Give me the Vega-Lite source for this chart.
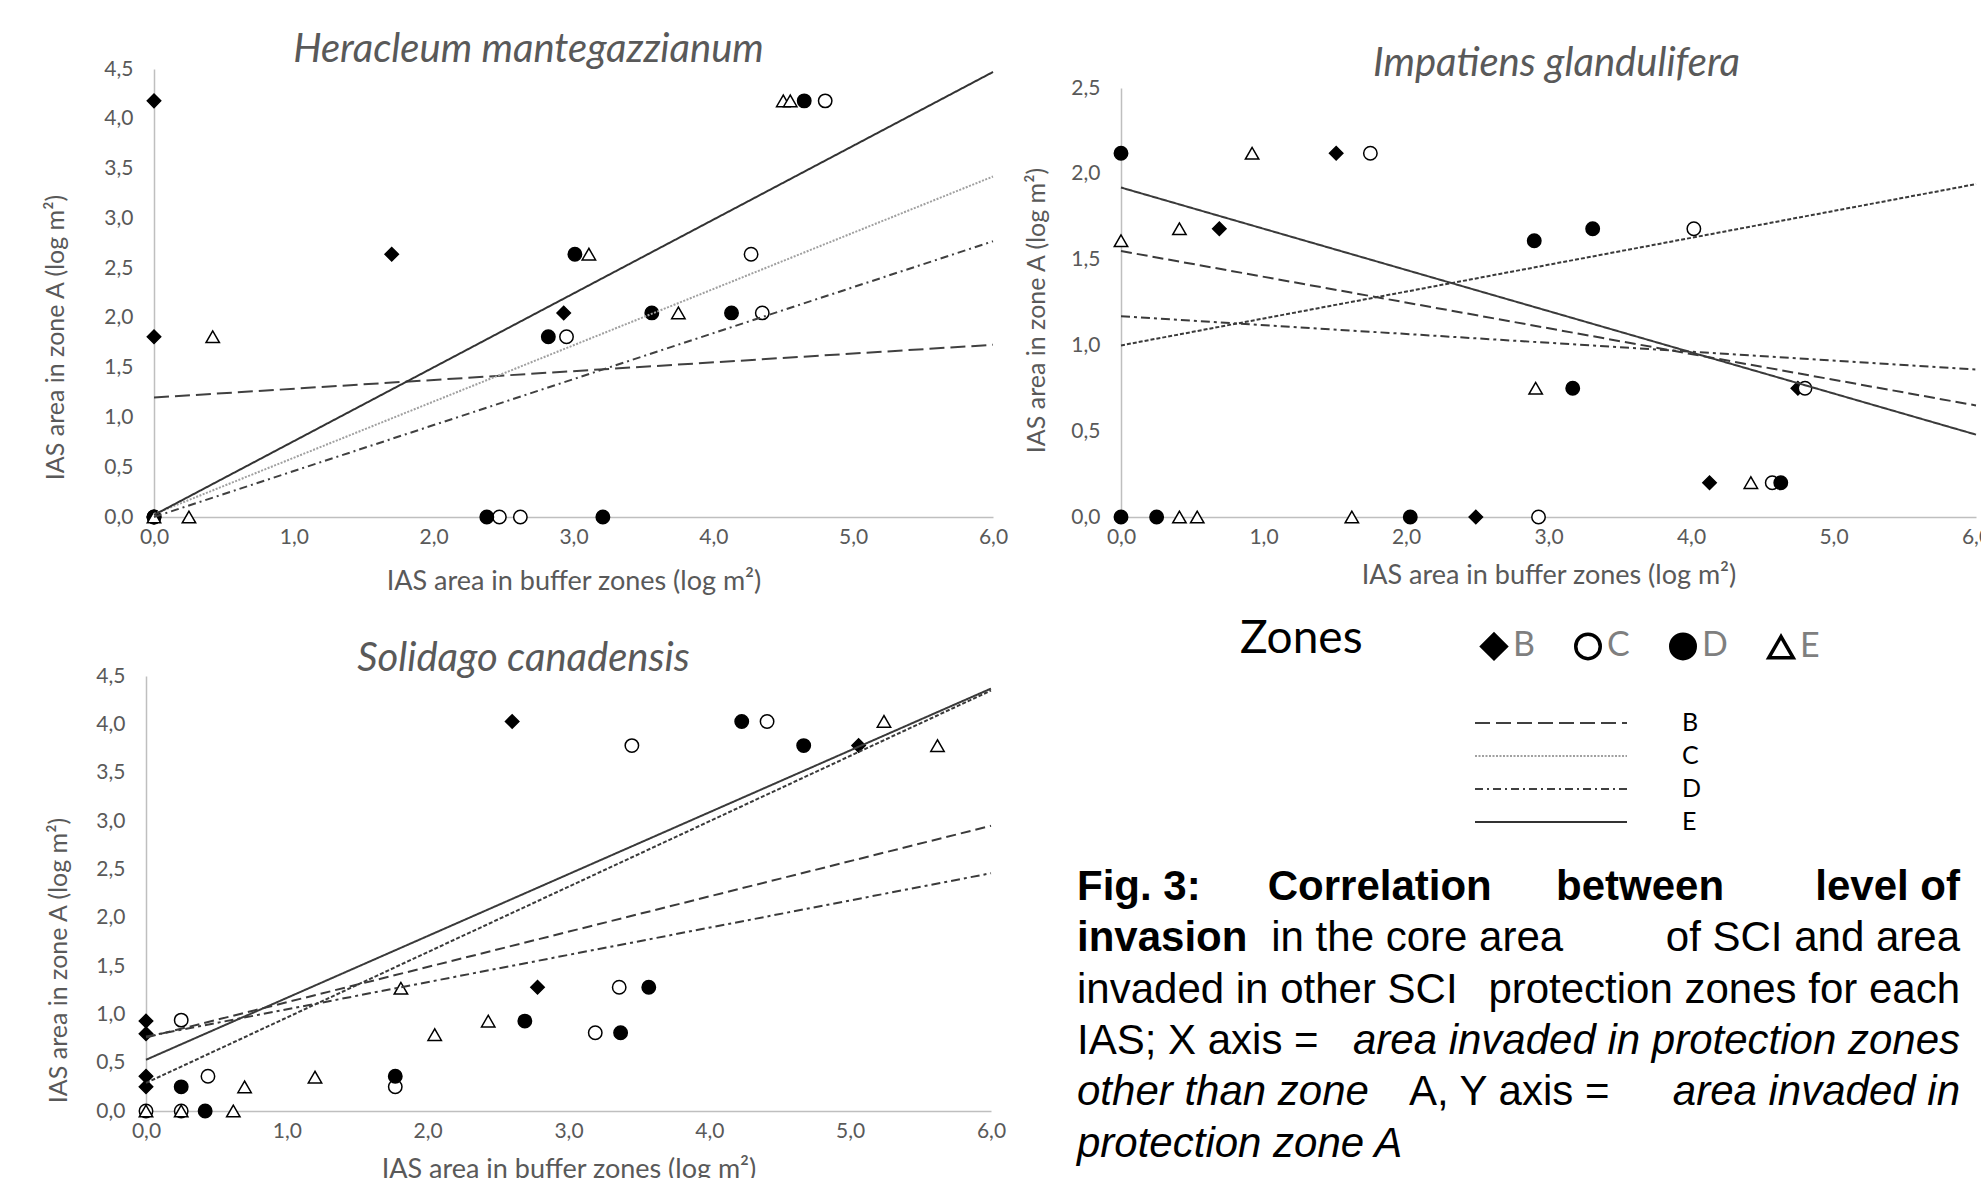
{
  "$schema": "https://vega.github.io/schema/vega-lite/v6.json",
  "padding": {"left": 43, "top": 30, "right": 0, "bottom": 0},
  "background": "white",
  "bounds": "flush",
  "columns": 2,
  "spacing": {"row": 159, "column": 128},
  "resolve": {"scale": {"strokeDash": "independent", "stroke": "independent"}},
  "config": {
    "view": {"stroke": null},
    "font": "Lato",
    "axis": {"grid": false, "ticks": false, "domainColor": "#bfbfbf", "domainWidth": 1.5, "labelFont": "Lato", "labelFontSize": 21, "labelColor": "#595959", "titleFont": "Lato", "titleFontSize": 25, "titleFontWeight": "normal", "titleColor": "#595959", "labelOverlap": false, "labelFlush": false},
    "axisX": {"labelPadding": 9, "titleFontSize": 27},
    "axisY": {"labelPadding": 21},
    "title": {"font": "Lato", "fontSize": 40, "fontStyle": "italic", "fontWeight": "normal", "color": "#595959", "anchor": "middle", "frame": "group", "baseline": "alphabetic"},
    "legend": {"padding": 0}
  },
  "datasets": {
    "points": [
      {"p": "H", "zone": "B", "x": 0, "y": 4.18}, {"p": "H", "zone": "B", "x": 0, "y": 1.81}, {"p": "H", "zone": "B", "x": 1.70, "y": 2.64}, {"p": "H", "zone": "B", "x": 2.93, "y": 2.05}, {"p": "H", "zone": "B", "x": 0, "y": 0},
      {"p": "H", "zone": "C", "x": 0, "y": 0}, {"p": "H", "zone": "C", "x": 2.47, "y": 0}, {"p": "H", "zone": "C", "x": 2.62, "y": 0}, {"p": "H", "zone": "C", "x": 2.95, "y": 1.81}, {"p": "H", "zone": "C", "x": 4.27, "y": 2.64}, {"p": "H", "zone": "C", "x": 4.35, "y": 2.05}, {"p": "H", "zone": "C", "x": 4.80, "y": 4.18},
      {"p": "H", "zone": "D", "x": 0, "y": 0}, {"p": "H", "zone": "D", "x": 2.38, "y": 0}, {"p": "H", "zone": "D", "x": 3.21, "y": 0}, {"p": "H", "zone": "D", "x": 2.82, "y": 1.81}, {"p": "H", "zone": "D", "x": 3.01, "y": 2.64}, {"p": "H", "zone": "D", "x": 3.56, "y": 2.05}, {"p": "H", "zone": "D", "x": 4.13, "y": 2.05}, {"p": "H", "zone": "D", "x": 4.65, "y": 4.18},
      {"p": "H", "zone": "E", "x": 0, "y": 0}, {"p": "H", "zone": "E", "x": 0.25, "y": 0}, {"p": "H", "zone": "E", "x": 0.42, "y": 1.81}, {"p": "H", "zone": "E", "x": 3.11, "y": 2.64}, {"p": "H", "zone": "E", "x": 3.75, "y": 2.05}, {"p": "H", "zone": "E", "x": 4.50, "y": 4.18}, {"p": "H", "zone": "E", "x": 4.55, "y": 4.18},
      {"p": "I", "zone": "B", "x": 1.51, "y": 2.12}, {"p": "I", "zone": "B", "x": 0.69, "y": 1.68}, {"p": "I", "zone": "B", "x": 4.75, "y": 0.75}, {"p": "I", "zone": "B", "x": 4.13, "y": 0.2}, {"p": "I", "zone": "B", "x": 2.49, "y": 0},
      {"p": "I", "zone": "C", "x": 1.75, "y": 2.12}, {"p": "I", "zone": "C", "x": 4.02, "y": 1.68}, {"p": "I", "zone": "C", "x": 4.80, "y": 0.75}, {"p": "I", "zone": "C", "x": 4.57, "y": 0.2}, {"p": "I", "zone": "C", "x": 2.93, "y": 0},
      {"p": "I", "zone": "D", "x": 0, "y": 2.12}, {"p": "I", "zone": "D", "x": 2.90, "y": 1.61}, {"p": "I", "zone": "D", "x": 3.31, "y": 1.68}, {"p": "I", "zone": "D", "x": 3.17, "y": 0.75}, {"p": "I", "zone": "D", "x": 4.63, "y": 0.2}, {"p": "I", "zone": "D", "x": 0, "y": 0}, {"p": "I", "zone": "D", "x": 0.25, "y": 0}, {"p": "I", "zone": "D", "x": 2.03, "y": 0},
      {"p": "I", "zone": "E", "x": 0.92, "y": 2.12}, {"p": "I", "zone": "E", "x": 0.41, "y": 1.68}, {"p": "I", "zone": "E", "x": 0, "y": 1.61}, {"p": "I", "zone": "E", "x": 2.91, "y": 0.75}, {"p": "I", "zone": "E", "x": 4.42, "y": 0.2}, {"p": "I", "zone": "E", "x": 0.41, "y": 0}, {"p": "I", "zone": "E", "x": 0.535, "y": 0}, {"p": "I", "zone": "E", "x": 1.62, "y": 0},
      {"p": "S", "zone": "B", "x": 0, "y": 0.93}, {"p": "S", "zone": "B", "x": 0, "y": 0.80}, {"p": "S", "zone": "B", "x": 0, "y": 0.36}, {"p": "S", "zone": "B", "x": 0, "y": 0.25}, {"p": "S", "zone": "B", "x": 2.60, "y": 4.03}, {"p": "S", "zone": "B", "x": 5.06, "y": 3.78}, {"p": "S", "zone": "B", "x": 2.78, "y": 1.28},
      {"p": "S", "zone": "C", "x": 0.25, "y": 0.94}, {"p": "S", "zone": "C", "x": 0.44, "y": 0.36}, {"p": "S", "zone": "C", "x": 1.77, "y": 0.25}, {"p": "S", "zone": "C", "x": 3.19, "y": 0.81}, {"p": "S", "zone": "C", "x": 3.36, "y": 1.28}, {"p": "S", "zone": "C", "x": 3.45, "y": 3.78}, {"p": "S", "zone": "C", "x": 4.41, "y": 4.03}, {"p": "S", "zone": "C", "x": 0, "y": 0}, {"p": "S", "zone": "C", "x": 0.25, "y": 0},
      {"p": "S", "zone": "D", "x": 0.25, "y": 0.25}, {"p": "S", "zone": "D", "x": 1.77, "y": 0.36}, {"p": "S", "zone": "D", "x": 2.69, "y": 0.93}, {"p": "S", "zone": "D", "x": 3.37, "y": 0.81}, {"p": "S", "zone": "D", "x": 3.57, "y": 1.28}, {"p": "S", "zone": "D", "x": 4.23, "y": 4.03}, {"p": "S", "zone": "D", "x": 4.67, "y": 3.78}, {"p": "S", "zone": "D", "x": 0.42, "y": 0},
      {"p": "S", "zone": "E", "x": 0.70, "y": 0.25}, {"p": "S", "zone": "E", "x": 1.20, "y": 0.35}, {"p": "S", "zone": "E", "x": 1.81, "y": 1.27}, {"p": "S", "zone": "E", "x": 2.05, "y": 0.79}, {"p": "S", "zone": "E", "x": 2.43, "y": 0.93}, {"p": "S", "zone": "E", "x": 5.24, "y": 4.03}, {"p": "S", "zone": "E", "x": 5.62, "y": 3.78}, {"p": "S", "zone": "E", "x": 0, "y": 0}, {"p": "S", "zone": "E", "x": 0.25, "y": 0}, {"p": "S", "zone": "E", "x": 0.62, "y": 0}
    ],
    "lines": [
      {"p": "H", "zone": "B", "x": 0, "y": 1.20}, {"p": "H", "zone": "B", "x": 6, "y": 1.73},
      {"p": "H", "zone": "C", "x": 0, "y": 0.03}, {"p": "H", "zone": "C", "x": 6, "y": 3.42},
      {"p": "H", "zone": "D", "x": 0, "y": 0.0}, {"p": "H", "zone": "D", "x": 6, "y": 2.77},
      {"p": "H", "zone": "E", "x": 0, "y": 0.02}, {"p": "H", "zone": "E", "x": 6, "y": 4.47},
      {"p": "I", "zone": "B", "x": 0, "y": 1.55}, {"p": "I", "zone": "B", "x": 6, "y": 0.65},
      {"p": "I", "zone": "C", "x": 0, "y": 1.00}, {"p": "I", "zone": "C", "x": 6, "y": 1.94},
      {"p": "I", "zone": "D", "x": 0, "y": 1.17}, {"p": "I", "zone": "D", "x": 6, "y": 0.86},
      {"p": "I", "zone": "E", "x": 0, "y": 1.92}, {"p": "I", "zone": "E", "x": 6, "y": 0.48},
      {"p": "S", "zone": "B", "x": 0, "y": 0.76}, {"p": "S", "zone": "B", "x": 6, "y": 2.95},
      {"p": "S", "zone": "C", "x": 0, "y": 0.29}, {"p": "S", "zone": "C", "x": 6, "y": 4.35},
      {"p": "S", "zone": "D", "x": 0, "y": 0.77}, {"p": "S", "zone": "D", "x": 6, "y": 2.46},
      {"p": "S", "zone": "E", "x": 0, "y": 0.53}, {"p": "S", "zone": "E", "x": 6, "y": 4.37}
    ]
  },
  "concat": [
    {
      "width": 847,
      "height": 448,
      "title": {"text": "Heracleum mantegazzianum", "dx": -41, "offset": -12},
      "layer": [
        {
          "data": {"name": "points"},
          "transform": [{"filter": "datum.p == 'H'"}],
          "mark": {"type": "point", "filled": true, "opacity": 1, "stroke": "black", "strokeWidth": 1.5, "size": 180},
          "encoding": {
            "x": {"field": "x", "type": "quantitative", "scale": {"domain": [0, 6], "nice": false, "zero": false, "rangeMin": 8},
                  "axis": {"values": [0, 1, 2, 3, 4, 5, 6], "labelExpr": "replace(format(datum.value, '.1f'), '.', ',')", "title": "IAS area in buffer zones (log m²)", "titleY": 64, "titleBaseline": "middle"}},
            "y": {"field": "y", "type": "quantitative", "scale": {"domain": [0, 4.5], "nice": false},
                  "axis": {"values": [0, 0.5, 1, 1.5, 2, 2.5, 3, 3.5, 4, 4.5], "labelExpr": "replace(format(datum.value, '.1f'), '.', ',')", "title": "IAS area in zone A (log m²)", "offset": -8, "titleX": -99, "titleY": 268, "titleBaseline": "middle", "titleAlign": "center", "titleAngle": 270}},
            "shape": {"field": "zone", "type": "nominal", "scale": {"domain": ["B", "C", "D", "E"], "range": ["diamond", "circle", "circle", "triangle-up"]},
                      "legend": {"title": "Zones", "orient": "none", "legendX": 1094, "legendY": 560, "direction": "horizontal", "titleOrient": "left", "titleFont": "Lato", "titleFontSize": 46, "titleFontWeight": "normal", "titleColor": "black", "titlePadding": 114, "titleAnchor": "middle", "titleBaseline": "line-bottom", "titleLineHeight": 15, "labelFont": "Lato", "labelFontSize": 34, "labelColor": "#7f7f7f", "labelOffset": 2, "columnPadding": 33, "symbolSize": 600, "symbolStrokeWidth": 3.5, "symbolStrokeColor": "black", "symbolOpacity": 1,
                                 "encode": {"symbols": {"update": {"stroke": {"value": "black"}, "strokeWidth": {"value": 3.5}}}}}},
            "fill": {"field": "zone", "type": "nominal", "scale": {"domain": ["B", "C", "D", "E"], "range": ["black", "white", "black", "white"]},
                     "legend": {"title": "Zones", "orient": "none", "legendX": 1094, "legendY": 560, "direction": "horizontal", "titleOrient": "left", "titleFont": "Lato", "titleFontSize": 46, "titleFontWeight": "normal", "titleColor": "black", "titlePadding": 114, "titleAnchor": "middle", "titleBaseline": "line-bottom", "titleLineHeight": 15, "labelFont": "Lato", "labelFontSize": 34, "labelColor": "#7f7f7f", "labelOffset": 2, "columnPadding": 33, "symbolSize": 600, "symbolStrokeWidth": 3.5, "symbolStrokeColor": "black", "symbolOpacity": 1,
                                "encode": {"symbols": {"update": {"stroke": {"value": "black"}, "strokeWidth": {"value": 3.5}}}}}}
          }
        },
        {
          "data": {"name": "lines"},
          "transform": [{"filter": "datum.p == 'H'"}],
          "mark": {"type": "line", "strokeWidth": 2},
          "encoding": {
            "x": {"field": "x", "type": "quantitative"},
            "y": {"field": "y", "type": "quantitative"},
            "strokeDash": {"field": "zone", "type": "nominal", "scale": {"domain": ["B", "C", "D", "E"], "range": [[15, 6], [2, 1.5], [8, 4, 2, 4], [1, 0]]},
                           "legend": {"title": null, "orient": "none", "legendX": 1328, "legendY": 642, "direction": "vertical", "symbolType": "stroke", "symbolSize": 23104, "symbolStrokeWidth": 2, "clipHeight": 24, "rowPadding": 8, "labelFont": "Lato", "labelFontSize": 25, "labelColor": "black", "labelOffset": 54}},
            "stroke": {"field": "zone", "type": "nominal", "scale": {"domain": ["B", "C", "D", "E"], "range": ["#404040", "#a0a0a0", "#404040", "#333333"]},
                       "legend": {"title": null, "orient": "none", "legendX": 1328, "legendY": 642, "direction": "vertical", "symbolType": "stroke", "symbolSize": 23104, "symbolStrokeWidth": 2, "clipHeight": 24, "rowPadding": 8, "labelFont": "Lato", "labelFontSize": 25, "labelColor": "black", "labelOffset": 54}}
          }
        }
      ]
    },
    {
      "width": 855,
      "height": 448,
      "title": {"text": "Impatiens glandulifera", "dx": 8, "offset": -15},
      "layer": [
        {
          "data": {"name": "points"},
          "transform": [{"filter": "datum.p == 'I'"}],
          "mark": {"type": "point", "filled": true, "opacity": 1, "stroke": "black", "strokeWidth": 1.5, "size": 180},
          "encoding": {
            "x": {"field": "x", "type": "quantitative", "scale": {"domain": [0, 6], "nice": false, "zero": false},
                  "axis": {"values": [0, 1, 2, 3, 4, 5, 6], "labelExpr": "replace(format(datum.value, '.1f'), '.', ',')", "title": "IAS area in buffer zones (log m²)", "titleY": 58, "titleBaseline": "middle"}},
            "y": {"field": "y", "type": "quantitative", "scale": {"domain": [0, 2.5], "nice": false, "rangeMax": 19},
                  "axis": {"values": [0, 0.5, 1, 1.5, 2, 2.5], "labelExpr": "replace(format(datum.value, '.1f'), '.', ',')", "title": "IAS area in zone A (log m²)", "titleX": -85, "titleY": 241, "titleBaseline": "middle", "titleAlign": "center", "titleAngle": 270}},
            "shape": {"field": "zone", "type": "nominal", "scale": {"domain": ["B", "C", "D", "E"], "range": ["diamond", "circle", "circle", "triangle-up"]},
                      "legend": {"title": "Zones", "orient": "none", "legendX": 1094, "legendY": 560, "direction": "horizontal", "titleOrient": "left", "titleFont": "Lato", "titleFontSize": 46, "titleFontWeight": "normal", "titleColor": "black", "titlePadding": 114, "titleAnchor": "middle", "titleBaseline": "line-bottom", "titleLineHeight": 15, "labelFont": "Lato", "labelFontSize": 34, "labelColor": "#7f7f7f", "labelOffset": 2, "columnPadding": 33, "symbolSize": 600, "symbolStrokeWidth": 3.5, "symbolStrokeColor": "black", "symbolOpacity": 1,
                                 "encode": {"symbols": {"update": {"stroke": {"value": "black"}, "strokeWidth": {"value": 3.5}}}}}},
            "fill": {"field": "zone", "type": "nominal", "scale": {"domain": ["B", "C", "D", "E"], "range": ["black", "white", "black", "white"]},
                     "legend": {"title": "Zones", "orient": "none", "legendX": 1094, "legendY": 560, "direction": "horizontal", "titleOrient": "left", "titleFont": "Lato", "titleFontSize": 46, "titleFontWeight": "normal", "titleColor": "black", "titlePadding": 114, "titleAnchor": "middle", "titleBaseline": "line-bottom", "titleLineHeight": 15, "labelFont": "Lato", "labelFontSize": 34, "labelColor": "#7f7f7f", "labelOffset": 2, "columnPadding": 33, "symbolSize": 600, "symbolStrokeWidth": 3.5, "symbolStrokeColor": "black", "symbolOpacity": 1,
                                "encode": {"symbols": {"update": {"stroke": {"value": "black"}, "strokeWidth": {"value": 3.5}}}}}}
          }
        },
        {
          "data": {"name": "lines"},
          "transform": [{"filter": "datum.p == 'I'"}],
          "mark": {"type": "line", "strokeWidth": 2, "color": "#3a3a3a"},
          "encoding": {
            "x": {"field": "x", "type": "quantitative"},
            "y": {"field": "y", "type": "quantitative"},
            "strokeDash": {"field": "zone", "type": "nominal", "scale": {"domain": ["B", "C", "D", "E"], "range": [[11, 5], [4, 2], [9, 4, 3, 4], [1, 0]]}, "legend": null}
          }
        }
      ]
    },
    {
      "width": 845,
      "height": 435,
      "title": {"text": "Solidago canadensis", "dx": -45, "offset": -14},
      "layer": [
        {
          "data": {"name": "points"},
          "transform": [{"filter": "datum.p == 'S'"}],
          "mark": {"type": "point", "filled": true, "opacity": 1, "stroke": "black", "strokeWidth": 1.5, "size": 180},
          "encoding": {
            "x": {"field": "x", "type": "quantitative", "scale": {"domain": [0, 6], "nice": false, "zero": false},
                  "axis": {"values": [0, 1, 2, 3, 4, 5, 6], "labelExpr": "replace(format(datum.value, '.1f'), '.', ',')", "title": "IAS area in buffer zones (log m²)", "titleY": 58, "titleBaseline": "middle"}},
            "y": {"field": "y", "type": "quantitative", "scale": {"domain": [0, 4.5], "nice": false},
                  "axis": {"values": [0, 0.5, 1, 1.5, 2, 2.5, 3, 3.5, 4, 4.5], "labelExpr": "replace(format(datum.value, '.1f'), '.', ',')", "title": "IAS area in zone A (log m²)", "titleX": -88, "titleY": 284, "titleBaseline": "middle", "titleAlign": "center", "titleAngle": 270}},
            "shape": {"field": "zone", "type": "nominal", "scale": {"domain": ["B", "C", "D", "E"], "range": ["diamond", "circle", "circle", "triangle-up"]},
                      "legend": {"title": "Zones", "orient": "none", "legendX": 1094, "legendY": 560, "direction": "horizontal", "titleOrient": "left", "titleFont": "Lato", "titleFontSize": 46, "titleFontWeight": "normal", "titleColor": "black", "titlePadding": 114, "titleAnchor": "middle", "titleBaseline": "line-bottom", "titleLineHeight": 15, "labelFont": "Lato", "labelFontSize": 34, "labelColor": "#7f7f7f", "labelOffset": 2, "columnPadding": 33, "symbolSize": 600, "symbolStrokeWidth": 3.5, "symbolStrokeColor": "black", "symbolOpacity": 1,
                                 "encode": {"symbols": {"update": {"stroke": {"value": "black"}, "strokeWidth": {"value": 3.5}}}}}},
            "fill": {"field": "zone", "type": "nominal", "scale": {"domain": ["B", "C", "D", "E"], "range": ["black", "white", "black", "white"]},
                     "legend": {"title": "Zones", "orient": "none", "legendX": 1094, "legendY": 560, "direction": "horizontal", "titleOrient": "left", "titleFont": "Lato", "titleFontSize": 46, "titleFontWeight": "normal", "titleColor": "black", "titlePadding": 114, "titleAnchor": "middle", "titleBaseline": "line-bottom", "titleLineHeight": 15, "labelFont": "Lato", "labelFontSize": 34, "labelColor": "#7f7f7f", "labelOffset": 2, "columnPadding": 33, "symbolSize": 600, "symbolStrokeWidth": 3.5, "symbolStrokeColor": "black", "symbolOpacity": 1,
                                "encode": {"symbols": {"update": {"stroke": {"value": "black"}, "strokeWidth": {"value": 3.5}}}}}}
          }
        },
        {
          "data": {"name": "lines"},
          "transform": [{"filter": "datum.p == 'S'"}],
          "mark": {"type": "line", "strokeWidth": 2, "color": "#3a3a3a"},
          "encoding": {
            "x": {"field": "x", "type": "quantitative"},
            "y": {"field": "y", "type": "quantitative"},
            "strokeDash": {"field": "zone", "type": "nominal", "scale": {"domain": ["B", "C", "D", "E"], "range": [[10, 5], [4, 2], [9, 4, 3, 4], [1, 0]]}, "legend": null}
          }
        }
      ]
    },
    {
      "width": 839,
      "height": 514,
      "encoding": {
        "y": {"field": "line", "type": "quantitative", "scale": {"domain": [-3.1, 6.9], "reverse": true}, "axis": null}
      },
      "layer": [
        {
          "data": {"values": [{"line": 1, "t": "Fig. 3:"}, {"line": 2, "t": "invasion"}]},
          "mark": {"type": "text", "align": "left", "baseline": "middle", "font": "Liberation Sans", "fontSize": 42, "fontWeight": "bold", "color": "black"},
          "encoding": {"x": {"datum": 0, "type": "quantitative", "scale": {"domain": [0, 1], "rangeMin": -44}, "axis": null}, "text": {"field": "t"}}
        },
        {
          "data": {"values": [{"line": 1, "t": "Correlation"}]},
          "mark": {"type": "text", "align": "left", "baseline": "middle", "font": "Liberation Sans", "fontSize": 42, "fontWeight": "bold", "color": "black"},
          "encoding": {"x": {"datum": 0.216, "type": "quantitative"}, "text": {"field": "t"}}
        },
        {
          "data": {"values": [{"line": 1, "t": "between"}]},
          "mark": {"type": "text", "align": "left", "baseline": "middle", "font": "Liberation Sans", "fontSize": 42, "fontWeight": "bold", "color": "black"},
          "encoding": {"x": {"datum": 0.5425, "type": "quantitative"}, "text": {"field": "t"}}
        },
        {
          "data": {"values": [{"line": 1, "t": "level of"}]},
          "mark": {"type": "text", "align": "right", "baseline": "middle", "font": "Liberation Sans", "fontSize": 42, "fontWeight": "bold", "color": "black"},
          "encoding": {"x": {"datum": 1, "type": "quantitative"}, "text": {"field": "t"}}
        },
        {
          "data": {"values": [{"line": 2, "t": "in the core area"}]},
          "mark": {"type": "text", "align": "left", "baseline": "middle", "font": "Liberation Sans", "fontSize": 42, "color": "black"},
          "encoding": {"x": {"datum": 0.22, "type": "quantitative"}, "text": {"field": "t"}}
        },
        {
          "data": {"values": [{"line": 3, "t": "invaded in other SCI"}, {"line": 4, "t": "IAS; X axis ="}]},
          "mark": {"type": "text", "align": "left", "baseline": "middle", "font": "Liberation Sans", "fontSize": 42, "color": "black"},
          "encoding": {"x": {"datum": 0, "type": "quantitative"}, "text": {"field": "t"}}
        },
        {
          "data": {"values": [{"line": 2, "t": "of SCI and area"}, {"line": 3, "t": "protection zones for each"}]},
          "mark": {"type": "text", "align": "right", "baseline": "middle", "font": "Liberation Sans", "fontSize": 42, "color": "black"},
          "encoding": {"x": {"datum": 1, "type": "quantitative"}, "text": {"field": "t"}}
        },
        {
          "data": {"values": [{"line": 5, "t": "A, Y axis ="}]},
          "mark": {"type": "text", "align": "left", "baseline": "middle", "font": "Liberation Sans", "fontSize": 42, "color": "black"},
          "encoding": {"x": {"datum": 0.376, "type": "quantitative"}, "text": {"field": "t"}}
        },
        {
          "data": {"values": [{"line": 5, "t": "other than zone"}, {"line": 6, "t": "protection zone A"}]},
          "mark": {"type": "text", "align": "left", "baseline": "middle", "font": "Liberation Sans", "fontSize": 42, "fontStyle": "italic", "color": "black"},
          "encoding": {"x": {"datum": 0, "type": "quantitative"}, "text": {"field": "t"}}
        },
        {
          "data": {"values": [{"line": 4, "t": "area invaded in protection zones"}, {"line": 5, "t": "area invaded in"}]},
          "mark": {"type": "text", "align": "right", "baseline": "middle", "font": "Liberation Sans", "fontSize": 42, "fontStyle": "italic", "color": "black"},
          "encoding": {"x": {"datum": 1, "type": "quantitative"}, "text": {"field": "t"}}
        }
      ]
    }
  ]
}
